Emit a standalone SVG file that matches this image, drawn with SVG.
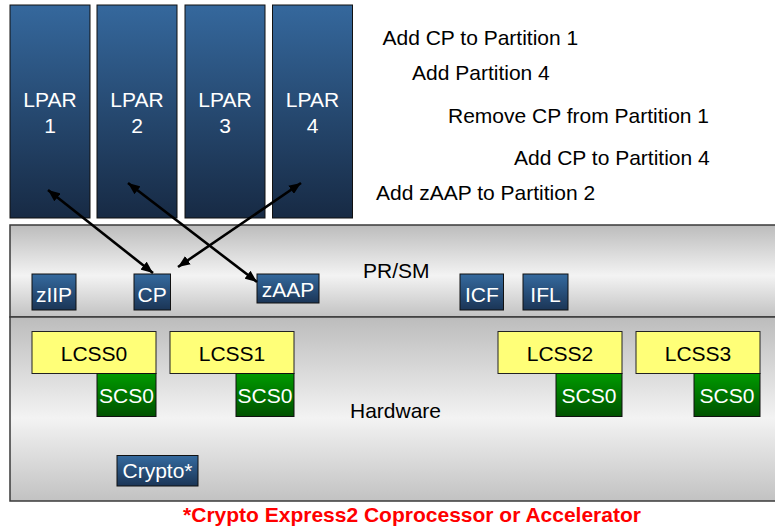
<svg xmlns="http://www.w3.org/2000/svg" width="775" height="529" viewBox="0 0 775 529">
  <defs>
    <linearGradient id="lparFill" x1="0" y1="0" x2="0" y2="1">
      <stop offset="0" stop-color="#35689d"/>
      <stop offset="1" stop-color="#172a44"/>
    </linearGradient>
    <linearGradient id="chipFill" x1="0" y1="0" x2="0" y2="1">
      <stop offset="0" stop-color="#356a9f"/>
      <stop offset="1" stop-color="#1b3556"/>
    </linearGradient>
    <linearGradient id="panelFill" x1="0" y1="0" x2="0" y2="1">
      <stop offset="0" stop-color="#bcbcbc"/>
      <stop offset="0.55" stop-color="#f3f3f3"/>
      <stop offset="1" stop-color="#c2c2c2"/>
    </linearGradient>
    <linearGradient id="scsFill" x1="0" y1="0" x2="0" y2="1">
      <stop offset="0" stop-color="#009a00"/>
      <stop offset="1" stop-color="#005200"/>
    </linearGradient>
    <marker id="head" viewBox="0 0 12 10" refX="12" refY="5" markerWidth="12" markerHeight="10" markerUnits="userSpaceOnUse" orient="auto-start-reverse">
      <path d="M0,0 L12,5 L0,10 Z" fill="#000"/>
    </marker>
    <style>
      text { font-family: "Liberation Sans", Arial, sans-serif; font-size: 21px; }
      .lpar { fill: url(#lparFill); stroke: #111; stroke-width: 1; }
      .chip { fill: url(#chipFill); stroke: #111; stroke-width: 1; }
      .panel { fill: url(#panelFill); stroke: #3a3a3a; stroke-width: 1.5; }
      .lcss { fill: #ffff78; stroke: #222; stroke-width: 1; }
      .scs { fill: url(#scsFill); stroke: #111; stroke-width: 1; }
      .wt { fill: #fff; text-anchor: middle; }
      .bk { fill: #000; }
      .mid { text-anchor: middle; }
      .note { fill: #ff0000; font-weight: bold; text-anchor: middle; }
      .link { stroke: #000; stroke-width: 2.6; fill: none; marker-start: url(#head); marker-end: url(#head); }
    </style>
  </defs>

  <!-- background panels -->
  <rect id="prsm-panel" class="panel" x="10" y="225" width="780" height="92"/>
  <rect id="hw-panel" class="panel" x="10" y="317" width="780" height="184"/>
  <text class="bk" x="363" y="278">PR/SM</text>
  <text class="bk" x="350" y="418">Hardware</text>

  <!-- logical partitions -->
  <g id="lpar1">
    <rect class="lpar" x="10" y="5" width="80" height="213"/>
    <text class="wt" x="50" y="107">LPAR</text>
    <text class="wt" x="50" y="133">1</text>
  </g>
  <g id="lpar2">
    <rect class="lpar" x="97" y="5" width="80" height="213"/>
    <text class="wt" x="137" y="107">LPAR</text>
    <text class="wt" x="137" y="133">2</text>
  </g>
  <g id="lpar3">
    <rect class="lpar" x="185" y="5" width="80" height="213"/>
    <text class="wt" x="225" y="107">LPAR</text>
    <text class="wt" x="225" y="133">3</text>
  </g>
  <g id="lpar4">
    <rect class="lpar" x="272.5" y="5" width="80" height="213"/>
    <text class="wt" x="312.5" y="107">LPAR</text>
    <text class="wt" x="312.5" y="133">4</text>
  </g>

  <!-- processor types -->
  <g id="ziip">
    <rect class="chip" x="32" y="274" width="44" height="36"/>
    <text class="wt" x="54" y="302">zIIP</text>
  </g>
  <g id="cp">
    <rect class="chip" x="134" y="274" width="36.5" height="36"/>
    <text class="wt" x="152.2" y="302">CP</text>
  </g>
  <g id="zaap">
    <rect class="chip" x="257" y="274" width="62" height="29"/>
    <text class="wt" x="288" y="297">zAAP</text>
  </g>
  <g id="icf">
    <rect class="chip" x="460" y="274" width="43.5" height="36"/>
    <text class="wt" x="481.8" y="302">ICF</text>
  </g>
  <g id="ifl">
    <rect class="chip" x="523" y="274" width="45" height="36"/>
    <text class="wt" x="545.5" y="302">IFL</text>
  </g>

  <!-- channel subsystems -->
  <g id="lcss0">
    <rect class="lcss" x="32" y="331.5" width="124" height="42"/>
    <text class="bk mid" x="94" y="361">LCSS0</text>
    <rect class="scs" x="97" y="373.5" width="59" height="43"/>
    <text class="wt" x="126.5" y="403">SCS0</text>
  </g>
  <g id="lcss1">
    <rect class="lcss" x="170" y="331.5" width="124" height="42"/>
    <text class="bk mid" x="232" y="361">LCSS1</text>
    <rect class="scs" x="236" y="373.5" width="58" height="43"/>
    <text class="wt" x="265" y="403">SCS0</text>
  </g>
  <g id="lcss2">
    <rect class="lcss" x="498" y="331.5" width="124" height="42"/>
    <text class="bk mid" x="560" y="361">LCSS2</text>
    <rect class="scs" x="556" y="373.5" width="66" height="43"/>
    <text class="wt" x="589" y="403">SCS0</text>
  </g>
  <g id="lcss3">
    <rect class="lcss" x="636" y="331.5" width="124" height="42"/>
    <text class="bk mid" x="698" y="361">LCSS3</text>
    <rect class="scs" x="694" y="373.5" width="66" height="43"/>
    <text class="wt" x="727" y="403">SCS0</text>
  </g>

  <g id="crypto">
    <rect class="chip" x="117" y="455.5" width="81" height="30.5"/>
    <text class="wt" x="157.5" y="478">Crypto*</text>
  </g>

  <!-- reconfiguration steps -->
  <g id="steps">
    <text class="bk" x="382.5" y="45">Add CP to Partition 1</text>
    <text class="bk" x="412" y="80">Add Partition 4</text>
    <text class="bk" x="448" y="123">Remove CP from Partition 1</text>
    <text class="bk" x="514" y="165">Add CP to Partition 4</text>
    <text class="bk" x="376" y="200">Add zAAP to Partition 2</text>
  </g>

  <!-- connectors -->
  <g id="connectors">
    <line class="link" x1="48" y1="190" x2="153" y2="273"/>
    <line class="link" x1="128" y1="183" x2="257" y2="282"/>
    <line class="link" x1="301" y1="183" x2="178" y2="267"/>
  </g>

  <text class="note" x="412" y="522">*Crypto Express2 Coprocessor or Accelerator</text>
</svg>
